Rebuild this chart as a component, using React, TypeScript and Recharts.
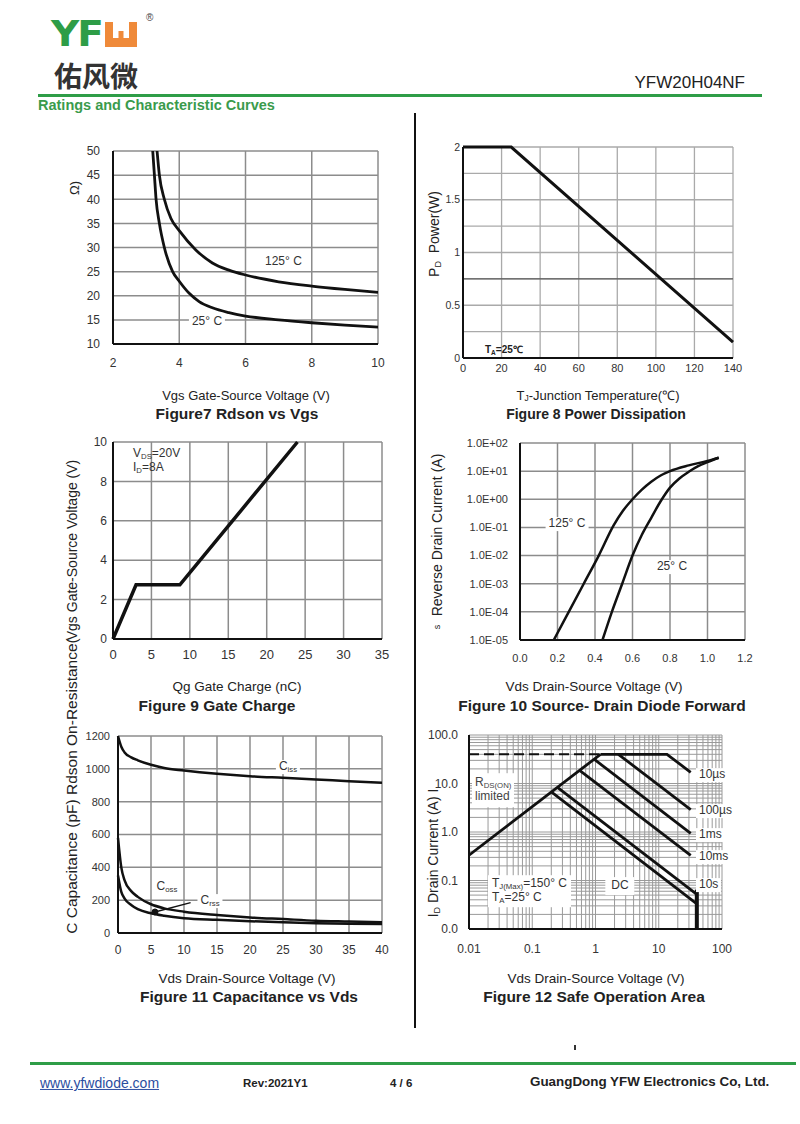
import React from "react";
import { LineChart, Line, XAxis, YAxis, CartesianGrid, ReferenceLine, ReferenceDot } from "recharts";

const FONT = "'Liberation Sans', Arial, sans-serif";
const GREEN = "#2e9d47";
const INK = "#111";

// Figure 7 - Rdson vs Vgs
const vgs25 = [3.2, 3.25, 3.3, 3.4, 3.55, 3.8, 4.0, 4.3, 4.6, 5, 5.5, 6, 7, 8, 9, 10];
const rds25 = [50, 45, 40, 35, 30, 25, 23, 20.5, 18.8, 17.5, 16.5, 15.8, 15, 14.4, 13.9, 13.5];
const vgs125 = [3.33, 3.4, 3.55, 3.75, 4, 4.5, 5, 5.5, 6, 7, 8, 9, 10];
const rds125 = [50, 45, 40, 36, 33.5, 29.5, 26.8, 25.3, 24.3, 22.9, 22, 21.3, 20.7];
const f7x = [2, 4, 6, 8, 10];
const f7y = [10, 15, 20, 25, 30, 35, 40, 45, 50];

// Figure 8 - power dissipation
const tj = [0, 25, 140];
const pd = [2, 2, 0.15];
const f8x = [0, 20, 40, 60, 80, 100, 120, 140];
const f8y = [0, 0.25, 0.5, 0.75, 1, 1.25, 1.5, 1.75, 2];

// Figure 9 - gate charge
const qg = [0, 3, 8.7, 24];
const vgsQ = [0, 2.75, 2.75, 10];
const f9x = [0, 5, 10, 15, 20, 25, 30, 35];
const f9y = [0, 2, 4, 6, 8, 10];

// Figure 10 - diode forward
const vf125 = [0.18, 0.26, 0.34, 0.42, 0.5, 0.55, 0.6, 0.65, 0.7, 0.75, 0.8, 0.9, 1.0, 1.06];
const is125 = [1e-5, 1e-4, 1e-3, 1e-2, 0.12, 0.4, 1.0, 2.2, 4.2, 7, 10, 16, 23, 30];
const vf25 = [0.44, 0.49, 0.545, 0.6, 0.65, 0.7, 0.75, 0.8, 0.85, 0.9, 0.95, 1.0, 1.06];
const is25 = [1e-5, 1e-4, 1e-3, 1e-2, 0.055, 0.22, 0.85, 2.6, 5.5, 9.5, 15, 21, 30];
const f10x = [0, 0.2, 0.4, 0.6, 0.8, 1.0, 1.2];
const f10y = [1e-5, 1e-4, 1e-3, 1e-2, 1e-1, 1, 10, 100];

// Figure 11 - capacitance
const vdsC = [0, 0.5, 1, 2, 3, 5, 7, 10, 15, 20, 25, 30, 35, 40];
const ciss = [1200, 1135, 1100, 1070, 1052, 1025, 1005, 990, 970, 955, 945, 935, 925, 915];
const coss = [580, 400, 320, 255, 220, 175, 150, 130, 110, 95, 85, 75, 70, 65];
const crss = [350, 250, 210, 170, 145, 120, 105, 90, 80, 72, 65, 60, 57, 55];
const f11x = [0, 5, 10, 15, 20, 25, 30, 35, 40];
const f11y = [0, 200, 400, 600, 800, 1000, 1200];

// Figure 12 - safe operating area
const rdsV = [0.01, 1.2];
const rdsI = [0.333, 40];
const limV = [0.01, 1.2];
const limI = [40, 40];
const us10V = [1.2, 13.5, 32];
const us10I = [40, 40, 17];
const us100V = [2.3, 32];
const us100I = [40, 2.9];
const ms1V = [0.95, 32];
const ms1I = [31.7, 0.94];
const ms10V = [0.56, 32];
const ms10I = [18.7, 0.33];
const s10V = [0.25, 40];
const s10I = [8.3, 0.052];
const dcV = [0.2, 40];
const dcI = [6.7, 0.033];
const edgeV = [40, 40];
const edgeI = [0.01, 0.065];
const soaDecX = [0.01, 0.1, 1, 10];
const soaDecY = [0.01, 0.1, 1, 10];
const mult = [1, 2, 3, 4, 5, 6, 7, 8, 9];

const minor = (decs: number[]) => {
  const out: number[] = [];
  decs.forEach((d) => mult.forEach((m) => out.push(+(d * m).toPrecision(3))));
  out.push(decs[decs.length - 1] * 10);
  return out;
};
const isDecade = (v: number) => Math.abs(Math.log10(v) - Math.round(Math.log10(v))) < 1e-6;
const pts = (xs: number[], ys: number[]) => xs.map((x, i) => ({ x, y: ys[i] }));
const sci = (v: number) => {
  const e = Math.round(Math.log10(v));
  return "1.0E" + (e < 0 ? "-" : "+") + String(Math.abs(e)).padStart(2, "0");
};

const axisLine = { stroke: INK, strokeWidth: 2 };
const tick = (fs = 12) => ({ fill: "#333", fontSize: fs, fontFamily: FONT });

function Plot({ rect, yw = 60, xh = 32, children }: { rect: number[]; yw?: number; xh?: number; children: React.ReactNode }) {
  const [x0, y0, x1, y1] = rect;
  const top = 8;
  const right = 14;
  return (
    <div style={{ position: "absolute", left: x0 - yw, top: y0 - top }}>
      <LineChart width={x1 - x0 + yw + right} height={y1 - y0 + top + xh} margin={{ top, right, bottom: 0, left: 0 }}>
        {children}
      </LineChart>
    </div>
  );
}

function T({ x, y, size = 12, bold, color = "#222", align = "left", bg, rotate, family = FONT, children, style }: any) {
  const tx = align === "left" ? "0" : align === "center" ? "-50%" : "-100%";
  return (
    <div
      style={{
        position: "absolute",
        left: x,
        top: y,
        transform: `translate(${rotate ? "-50%" : tx},-50%)${rotate ? " rotate(-90deg)" : ""}`,
        fontSize: size,
        fontWeight: bold ? "bold" : "normal",
        color,
        fontFamily: family,
        whiteSpace: "nowrap",
        lineHeight: 1.15,
        background: bg ? "#fff" : "transparent",
        padding: bg ? "0 3px" : 0,
        ...style,
      }}
    >
      {children}
    </div>
  );
}

const Sub = ({ children }: any) => <span style={{ fontSize: "0.65em", verticalAlign: "-0.2em", lineHeight: 0 }}>{children}</span>;

const line = (xs: number[], ys: number[], w = 2.5, type: any = "linear", dash?: string) => (
  <Line
    data={pts(xs, ys)}
    dataKey="y"
    type={type}
    stroke={INK}
    strokeWidth={w}
    strokeDasharray={dash}
    dot={false}
    isAnimationActive={false}
  />
);

export default function App() {
  return (
    <div style={{ position: "absolute", left: 0, top: 0, width: 800, height: 1124, background: "#fff", overflow: "hidden", fontFamily: FONT }}>
      {/* header */}
      <T x={51} y={35} size={39} bold color={GREEN} family="'DejaVu Sans', sans-serif" style={{ letterSpacing: -2, transform: "translate(0,-50%) scaleY(0.9)" }}>YF</T>
      <svg style={{ position: "absolute", left: 105, top: 22 }} width={33} height={26}>
        <rect x={0} y={0} width={32} height={25} fill="#ef8a3a" />
        <rect x={8} y={0} width={16} height={16} fill="#fff" />
        <rect x={13.5} y={9} width={5} height={7} fill="#ef8a3a" />
      </svg>
      <T x={146} y={18} size={10} color="#444">®</T>
      <T x={54} y={75} size={28} bold color="#333" family="'Noto Sans CJK SC', sans-serif">佑风微</T>
      <T x={745} y={83} size={17} align="right" color="#222">YFW20H04NF</T>
      <div style={{ position: "absolute", left: 38, top: 94, width: 724, height: 2.5, background: GREEN }} />
      <T x={38} y={105} size={14.5} bold color="#3a9b4c">Ratings and Characteristic Curves</T>
      <div style={{ position: "absolute", left: 414, top: 113, width: 2, height: 915, background: INK }} />

      {/* Figure 7 */}
      <Plot rect={[113, 151, 378, 344]}>
        <CartesianGrid stroke="#8c8c8c" strokeWidth={1.5} />
        <XAxis type="number" dataKey="x" domain={[2, 10]} ticks={f7x} interval={0} axisLine={axisLine} tickLine={false} tickSize={10} tickMargin={4} tick={tick()} height={32} allowDataOverflow />
        <YAxis type="number" domain={[10, 50]} ticks={f7y} interval={0} axisLine={axisLine} tickLine={false} tickSize={10} tickMargin={3} tick={tick()} width={60} allowDataOverflow />
        {line(vgs25, rds25, 2.8, "monotone")}
        {line(vgs125, rds125, 2.8, "monotone")}
      </Plot>
      <T x={265} y={262} size={12} color="#333">125° C</T>
      <T x={207} y={322} size={12} color="#333" align="center" bg>25° C</T>
      <T x={75} y={188} size={13} rotate color="#222">Ω)</T>
      <T x={246} y={396} size={13} align="center">Vgs Gate-Source Voltage (V)</T>
      <T x={237} y={414} size={15.5} bold align="center">Figure7 Rdson vs Vgs</T>

      {/* Figure 8 */}
      <Plot rect={[463, 147, 733, 358]}>
        <CartesianGrid stroke="#aaa" strokeWidth={1.3} />
        <XAxis type="number" dataKey="x" domain={[0, 140]} ticks={f8x} interval={0} axisLine={axisLine} tickLine={false} tickSize={4} tickMargin={2} tick={tick(11)} height={32} />
        <YAxis type="number" domain={[0, 2]} ticks={f8y} interval={0} axisLine={axisLine} tickLine={false} tickSize={2} tickMargin={1} tick={tick(10.5)} width={60} tickFormatter={(v: number) => (v % 0.5 === 0 ? String(v) : "")} />
        <ReferenceLine y={0.75} stroke="#444" strokeWidth={1} />
        {line(tj, pd, 3)}
      </Plot>
      <T x={485} y={350} size={10} bold color="#222">T<Sub>A</Sub>=25℃</T>
      <T x={434} y={234} size={14} rotate>P<Sub>D</Sub>&nbsp; Power(W)</T>
      <T x={598} y={396} size={13} align="center">T<Sub>J</Sub>-Junction Temperature(℃)</T>
      <T x={596} y={414} size={14} bold align="center">Figure 8 Power Dissipation</T>

      {/* Figure 9 */}
      <Plot rect={[113, 442, 382, 639]}>
        <CartesianGrid stroke="#8c8c8c" strokeWidth={1.5} />
        <XAxis type="number" dataKey="x" domain={[0, 35]} ticks={f9x} interval={0} axisLine={axisLine} tickLine={false} tickSize={8} tickMargin={3} tick={tick(13)} height={32} />
        <YAxis type="number" domain={[0, 10]} ticks={f9y} interval={0} axisLine={axisLine} tickLine={false} tickSize={4} tickMargin={2} tick={tick(12)} width={60} />
        {line(qg, vgsQ, 3.5)}
      </Plot>
      <T x={133} y={454} size={12} color="#333">V<Sub>DS</Sub>=20V</T>
      <T x={133} y={468} size={12} color="#333">I<Sub>D</Sub>=8A</T>
      <T x={237} y={687} size={13.5} align="center">Qg Gate Charge (nC)</T>
      <T x={217} y={706} size={15.5} bold align="center">Figure 9 Gate Charge</T>

      {/* left column axis titles */}
      <T x={72} y={550} size={14} rotate>Vgs Gate-Source Voltage (V)</T>
      <T x={72} y={786} size={15.5} rotate>C Capacitance (pF) Rdson On-Resistance(</T>

      {/* Figure 10 */}
      <Plot rect={[510, 443, 745, 640]}>
        <CartesianGrid stroke="#8c8c8c" strokeWidth={1.5} />
        <XAxis type="number" dataKey="x" domain={[0, 1.2]} ticks={f10x} interval={0} axisLine={axisLine} tickLine={false} tickSize={10} tickMargin={4} tick={tick(11)} height={32} tickFormatter={(v: number) => v.toFixed(1)} />
        <YAxis type="number" scale="log" domain={[1e-5, 100]} ticks={f10y} interval={0} axisLine={axisLine} tickLine={false} tickSize={9} tickMargin={3} tick={tick(11)} width={70} tickFormatter={sci} allowDataOverflow />
        {line(vf125, is125, 2.5, "monotone")}
        {line(vf25, is25, 2.5, "monotone")}
      </Plot>
      <T x={567} y={524} size={12} color="#333" align="center" bg>125° C</T>
      <T x={672} y={567} size={12} color="#333" align="center" bg>25° C</T>
      <T x={437} y={535} size={14} rotate>Reverse Drain Current (A)</T>
      <T x={437} y={627} size={9} rotate>s</T>
      <T x={594} y={687} size={13.5} align="center">Vds Drain-Source Voltage (V)</T>
      <T x={602} y={706} size={15.5} bold align="center">Figure 10 Source- Drain Diode Forward</T>

      {/* Figure 11 */}
      <Plot rect={[118, 736, 382, 933]}>
        <CartesianGrid stroke="#8c8c8c" strokeWidth={1.5} />
        <XAxis type="number" dataKey="x" domain={[0, 40]} ticks={f11x} interval={0} axisLine={axisLine} tickLine={false} tickSize={8} tickMargin={4} tick={tick(12)} height={32} />
        <YAxis type="number" domain={[0, 1200]} ticks={f11y} interval={0} axisLine={axisLine} tickLine={false} tickSize={6} tickMargin={2} tick={tick(11)} width={60} />
        {line(vdsC, ciss, 2.5, "monotone")}
        {line(vdsC, coss, 2.5, "monotone")}
        {line(vdsC, crss, 2.5, "monotone")}
        <ReferenceLine segment={[{ x: 5.6, y: 128 }, { x: 11, y: 185 }]} stroke={INK} strokeWidth={1.5} />
        <ReferenceDot x={5.6} y={128} r={3} fill={INK} stroke={INK} />
      </Plot>
      <T x={288} y={767} size={12} color="#333" align="center" bg>C<Sub>iss</Sub></T>
      <T x={167} y={887} size={12} color="#333" align="center" bg>C<Sub>oss</Sub></T>
      <T x={210} y={901} size={12} color="#333" align="center" bg>C<Sub>rss</Sub></T>
      <T x={247} y={979} size={13.5} align="center">Vds Drain-Source Voltage (V)</T>
      <T x={249} y={997} size={15.5} bold align="center">Figure 11 Capacitance vs Vds</T>

      {/* Figure 12 */}
      <Plot rect={[469, 735, 722, 929]}>
        <CartesianGrid stroke="#9a9a9a" strokeWidth={1} />
        <XAxis type="number" dataKey="x" scale="log" domain={[0.01, 100]} ticks={minor(soaDecX)} interval={0} axisLine={axisLine} tickLine={false} tickSize={10} tickMargin={5} tick={tick(12)} height={32} tickFormatter={(v: number) => (isDecade(v) ? String(v) : "")} allowDataOverflow />
        <YAxis type="number" scale="log" domain={[0.01, 100]} ticks={minor(soaDecY)} interval={0} axisLine={axisLine} tickLine={false} tickSize={8} tickMargin={3} tick={tick(12)} width={60} tickFormatter={(v: number) => (isDecade(v) ? v.toFixed(1) : "")} allowDataOverflow />
        {line(limV, limI, 2, "linear", "10 5")}
        {line(rdsV, rdsI, 2.8)}
        {line(us10V, us10I, 2.8)}
        {line(us100V, us100I, 2.8)}
        {line(ms1V, ms1I, 2.8)}
        {line(ms10V, ms10I, 2.8)}
        {line(s10V, s10I, 2.8)}
        {line(dcV, dcI, 2.8)}
        {line(edgeV, edgeI, 4)}
      </Plot>
      <T x={472} y={790} size={12} color="#444" bg style={{ padding: "3px 3px" }}>
        R<Sub>DS(ON)</Sub>
        <br />
        limited
      </T>
      <T x={488} y={891} size={12} color="#333" bg style={{ padding: "2px 4px" }}>
        T<Sub>J(Max)</Sub>=150° C
        <br />
        T<Sub>A</Sub>=25° C
      </T>
      <T x={620} y={886} size={12} color="#333" align="center" bg style={{ padding: "2px 6px" }}>DC</T>
      <T x={696} y={775} size={12} color="#333" bg>10µs</T>
      <T x={696} y={811} size={12} color="#333" bg>100µs</T>
      <T x={696} y={835} size={12} color="#333" bg>1ms</T>
      <T x={696} y={857} size={12} color="#333" bg>10ms</T>
      <T x={696} y={885} size={12} color="#333" bg>10s</T>
      <T x={433} y={853} size={14} rotate>I<Sub>D</Sub> Drain Current (A) I</T>
      <T x={596} y={979} size={13.5} align="center">Vds Drain-Source Voltage (V)</T>
      <T x={594} y={997} size={15.5} bold align="center">Figure 12 Safe Operation Area</T>

      {/* footer */}
      <div style={{ position: "absolute", left: 574, top: 1045, width: 1.5, height: 5, background: "#333" }} />
      <div style={{ position: "absolute", left: 30, top: 1062, width: 766, height: 3, background: GREEN }} />
      <T x={40} y={1083} size={14} color="#2b4da0" style={{ textDecoration: "underline" }}>www.yfwdiode.com</T>
      <T x={243} y={1084} size={11.5} bold>Rev:2021Y1</T>
      <T x={390} y={1084} size={11.5} bold>4 / 6</T>
      <T x={530} y={1082} size={13.4} bold>GuangDong YFW Electronics Co, Ltd.</T>
    </div>
  );
}
